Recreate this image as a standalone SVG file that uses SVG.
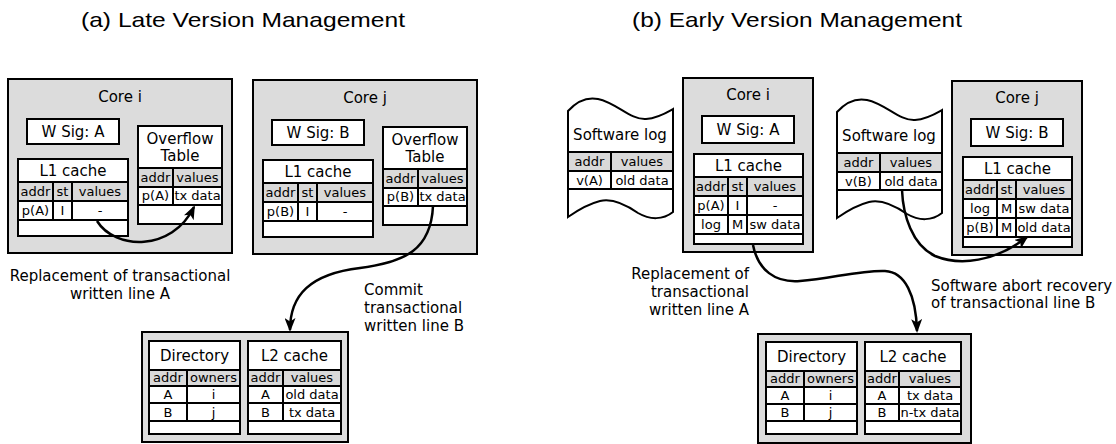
<svg xmlns="http://www.w3.org/2000/svg" width="1116" height="444" viewBox="0 0 1116 444">
  <defs>
    <style>
      .core { fill: #dcdcdc; stroke: #000; stroke-width: 2; }
      .box { fill: #fff; stroke: #000; stroke-width: 2; }
      .hdr { fill: #d9d9d9; stroke: #000; stroke-width: 2; }
      text { font-family: "DejaVu Sans", sans-serif; fill: #000; }
      .lbl { font-size: 15px; text-anchor: middle; }
      .c { font-size: 13px; text-anchor: middle; }
      .note { font-size: 15px; }
      .title { font-family: "Liberation Sans", Arial, sans-serif; font-size: 21px; }
      .conn { fill: none; stroke: #000; stroke-width: 2.5; marker-end: url(#ah); }
    </style>
    <marker id="ah" viewBox="0 0 14 11" refX="12" refY="5.5" markerWidth="14" markerHeight="11" markerUnits="userSpaceOnUse" orient="auto">
      <path d="M0,0 L14,5.5 L0,11 L3.5,5.5 Z" fill="#000"/>
    </marker>
    <!-- wavy sheet used for the software logs -->
    <path id="logsheet" d="M568,111 C578,100 588,97 598,99 C617,103 630,120 646,119 C658,118 666,113 673,109 L673,212 C663,220 650,220 638,213 C625,204 612,198 600,201 C588,204 578,210 568,217 Z"/>
  </defs>

  <rect width="1116" height="444" fill="#fff"/>

  <!-- titles -->
  <text class="title" x="81" y="27" textLength="324" lengthAdjust="spacingAndGlyphs">(a) Late Version Management</text>
  <text class="title" x="632" y="27" textLength="330" lengthAdjust="spacingAndGlyphs">(b) Early Version Management</text>

  <!-- ===== (a) Late version management ===== -->
  <g id="late-core-i">
    <rect class="core" x="8" y="79" width="224" height="174"/>
    <text class="lbl" x="120" y="102">Core i</text>
    <rect class="box" x="27" y="119" width="92" height="25"/>
    <text class="lbl" x="73" y="137">W Sig: A</text>
    <!-- L1 cache -->
    <rect class="box" x="18" y="159" width="110" height="77"/>
    <rect class="box" x="18" y="159" width="110" height="23"/>
    <text class="lbl" x="73" y="176">L1 cache</text>
    <rect class="hdr" x="18" y="182" width="35" height="19"/>
    <rect class="hdr" x="53" y="182" width="19" height="19"/>
    <rect class="hdr" x="72" y="182" width="56" height="19"/>
    <text class="c" x="35.5" y="196">addr</text>
    <text class="c" x="62.5" y="196">st</text>
    <text class="c" x="100" y="196">values</text>
    <rect class="box" x="18" y="201" width="35" height="19"/>
    <rect class="box" x="53" y="201" width="19" height="19"/>
    <rect class="box" x="72" y="201" width="56" height="19"/>
    <text class="c" x="35.5" y="215">p(A)</text>
    <text class="c" x="62.5" y="215">I</text>
    <text class="c" x="100" y="215">-</text>
    <!-- overflow table -->
    <rect class="box" x="138" y="126" width="84" height="98"/>
    <rect class="box" x="138" y="126" width="84" height="42"/>
    <text class="lbl" x="180" y="144">Overflow</text>
    <text class="lbl" x="180" y="161">Table</text>
    <rect class="hdr" x="138" y="168" width="35" height="19"/>
    <rect class="hdr" x="173" y="168" width="49" height="19"/>
    <text class="c" x="155.5" y="182">addr</text>
    <text class="c" x="197.5" y="182">values</text>
    <rect class="box" x="138" y="187" width="35" height="18"/>
    <rect class="box" x="173" y="187" width="49" height="18"/>
    <text class="c" x="155.5" y="200">p(A)</text>
    <text class="c" x="197.5" y="200">tx data</text>
  </g>

  <g id="late-core-j" transform="translate(245,1)">
    <rect class="core" x="8" y="79" width="224" height="174"/>
    <text class="lbl" x="120" y="102">Core j</text>
    <rect class="box" x="27" y="119" width="92" height="25"/>
    <text class="lbl" x="73" y="137">W Sig: B</text>
    <rect class="box" x="18" y="159" width="110" height="77"/>
    <rect class="box" x="18" y="159" width="110" height="23"/>
    <text class="lbl" x="73" y="176">L1 cache</text>
    <rect class="hdr" x="18" y="182" width="35" height="19"/>
    <rect class="hdr" x="53" y="182" width="19" height="19"/>
    <rect class="hdr" x="72" y="182" width="56" height="19"/>
    <text class="c" x="35.5" y="196">addr</text>
    <text class="c" x="62.5" y="196">st</text>
    <text class="c" x="100" y="196">values</text>
    <rect class="box" x="18" y="201" width="35" height="19"/>
    <rect class="box" x="53" y="201" width="19" height="19"/>
    <rect class="box" x="72" y="201" width="56" height="19"/>
    <text class="c" x="35.5" y="215">p(B)</text>
    <text class="c" x="62.5" y="215">I</text>
    <text class="c" x="100" y="215">-</text>
    <rect class="box" x="138" y="126" width="84" height="98"/>
    <rect class="box" x="138" y="126" width="84" height="42"/>
    <text class="lbl" x="180" y="144">Overflow</text>
    <text class="lbl" x="180" y="161">Table</text>
    <rect class="hdr" x="138" y="168" width="35" height="19"/>
    <rect class="hdr" x="173" y="168" width="49" height="19"/>
    <text class="c" x="155.5" y="182">addr</text>
    <text class="c" x="197.5" y="182">values</text>
    <rect class="box" x="138" y="187" width="35" height="18"/>
    <rect class="box" x="173" y="187" width="49" height="18"/>
    <text class="c" x="155.5" y="200">p(B)</text>
    <text class="c" x="197.5" y="200">tx data</text>
  </g>

  <g id="late-shared">
    <rect class="core" x="142" y="332" width="206" height="110"/>
    <!-- directory -->
    <rect class="box" x="149" y="341" width="91" height="93"/>
    <rect class="box" x="149" y="341" width="91" height="29"/>
    <text class="lbl" x="194.5" y="361">Directory</text>
    <rect class="hdr" x="149" y="370" width="38" height="16"/>
    <rect class="hdr" x="187" y="370" width="53" height="16"/>
    <text class="c" x="168" y="382">addr</text>
    <text class="c" x="213.5" y="382">owners</text>
    <rect class="box" x="149" y="386" width="38" height="17"/>
    <rect class="box" x="187" y="386" width="53" height="17"/>
    <text class="c" x="168" y="399">A</text>
    <text class="c" x="213.5" y="399">i</text>
    <rect class="box" x="149" y="403" width="38" height="18"/>
    <rect class="box" x="187" y="403" width="53" height="18"/>
    <text class="c" x="168" y="416.5">B</text>
    <text class="c" x="213.5" y="416.5">j</text>
    <!-- L2 cache -->
    <rect class="box" x="248" y="341" width="93" height="93"/>
    <rect class="box" x="248" y="341" width="93" height="29"/>
    <text class="lbl" x="294.5" y="361">L2 cache</text>
    <rect class="hdr" x="248" y="370" width="35" height="16"/>
    <rect class="hdr" x="283" y="370" width="58" height="16"/>
    <text class="c" x="265.5" y="382">addr</text>
    <text class="c" x="312" y="382">values</text>
    <rect class="box" x="248" y="386" width="35" height="17"/>
    <rect class="box" x="283" y="386" width="58" height="17"/>
    <text class="c" x="265.5" y="399">A</text>
    <text class="c" x="312" y="399">old data</text>
    <rect class="box" x="248" y="403" width="35" height="18"/>
    <rect class="box" x="283" y="403" width="58" height="18"/>
    <text class="c" x="265.5" y="416.5">B</text>
    <text class="c" x="312" y="416.5">tx data</text>
  </g>

  <!-- ===== (b) Early version management ===== -->
  <g id="early-log-i">
    <use href="#logsheet" class="box"/>
    <text class="lbl" x="620" y="140">Software log</text>
    <rect class="hdr" x="568" y="152" width="43" height="19"/>
    <rect class="hdr" x="611" y="152" width="62" height="19"/>
    <text class="c" x="589.5" y="166">addr</text>
    <text class="c" x="642" y="166">values</text>
    <rect class="box" x="568" y="171" width="43" height="18"/>
    <rect class="box" x="611" y="171" width="62" height="18"/>
    <text class="c" x="589.5" y="185">v(A)</text>
    <text class="c" x="642" y="185">old data</text>
  </g>

  <g id="early-core-i">
    <rect class="core" x="683" y="78" width="130" height="174"/>
    <text class="lbl" x="748" y="100">Core i</text>
    <rect class="box" x="702" y="116" width="92" height="27"/>
    <text class="lbl" x="748" y="135">W Sig: A</text>
    <rect class="box" x="694" y="154" width="109" height="90"/>
    <rect class="box" x="694" y="154" width="109" height="23"/>
    <text class="lbl" x="748.5" y="171">L1 cache</text>
    <rect class="hdr" x="694" y="177" width="34" height="19"/>
    <rect class="hdr" x="728" y="177" width="19" height="19"/>
    <rect class="hdr" x="747" y="177" width="56" height="19"/>
    <text class="c" x="711" y="191">addr</text>
    <text class="c" x="737.5" y="191">st</text>
    <text class="c" x="775" y="191">values</text>
    <rect class="box" x="694" y="196" width="34" height="19"/>
    <rect class="box" x="728" y="196" width="19" height="19"/>
    <rect class="box" x="747" y="196" width="56" height="19"/>
    <text class="c" x="711" y="210">p(A)</text>
    <text class="c" x="737.5" y="210">I</text>
    <text class="c" x="775" y="210">-</text>
    <rect class="box" x="694" y="215" width="34" height="19"/>
    <rect class="box" x="728" y="215" width="19" height="19"/>
    <rect class="box" x="747" y="215" width="56" height="19"/>
    <text class="c" x="711" y="229">log</text>
    <text class="c" x="737.5" y="229">M</text>
    <text class="c" x="775" y="229">sw data</text>
  </g>

  <g id="early-log-j" transform="translate(269,1)">
    <use href="#logsheet" class="box"/>
    <text class="lbl" x="620" y="140">Software log</text>
    <rect class="hdr" x="568" y="152" width="43" height="19"/>
    <rect class="hdr" x="611" y="152" width="62" height="19"/>
    <text class="c" x="589.5" y="166">addr</text>
    <text class="c" x="642" y="166">values</text>
    <rect class="box" x="568" y="171" width="43" height="18"/>
    <rect class="box" x="611" y="171" width="62" height="18"/>
    <text class="c" x="589.5" y="185">v(B)</text>
    <text class="c" x="642" y="185">old data</text>
  </g>

  <g id="early-core-j" transform="translate(269,3)">
    <rect class="core" x="683" y="78" width="130" height="174"/>
    <text class="lbl" x="748" y="100">Core j</text>
    <rect class="box" x="702" y="116" width="92" height="27"/>
    <text class="lbl" x="748" y="135">W Sig: B</text>
    <rect class="box" x="694" y="154" width="109" height="90"/>
    <rect class="box" x="694" y="154" width="109" height="23"/>
    <text class="lbl" x="748.5" y="171">L1 cache</text>
    <rect class="hdr" x="694" y="177" width="34" height="19"/>
    <rect class="hdr" x="728" y="177" width="19" height="19"/>
    <rect class="hdr" x="747" y="177" width="56" height="19"/>
    <text class="c" x="711" y="191">addr</text>
    <text class="c" x="737.5" y="191">st</text>
    <text class="c" x="775" y="191">values</text>
    <rect class="box" x="694" y="196" width="34" height="19"/>
    <rect class="box" x="728" y="196" width="19" height="19"/>
    <rect class="box" x="747" y="196" width="56" height="19"/>
    <text class="c" x="711" y="210">log</text>
    <text class="c" x="737.5" y="210">M</text>
    <text class="c" x="775" y="210">sw data</text>
    <rect class="box" x="694" y="215" width="34" height="19"/>
    <rect class="box" x="728" y="215" width="19" height="19"/>
    <rect class="box" x="747" y="215" width="56" height="19"/>
    <text class="c" x="711" y="229">p(B)</text>
    <text class="c" x="737.5" y="229">M</text>
    <text class="c" x="775" y="229">old data</text>
  </g>

  <g id="early-shared">
    <rect class="core" x="758" y="334" width="213" height="109"/>
    <rect class="box" x="766" y="342" width="91" height="92"/>
    <rect class="box" x="766" y="342" width="91" height="29"/>
    <text class="lbl" x="811.5" y="362">Directory</text>
    <rect class="hdr" x="766" y="371" width="38" height="16"/>
    <rect class="hdr" x="804" y="371" width="53" height="16"/>
    <text class="c" x="785" y="383">addr</text>
    <text class="c" x="830.5" y="383">owners</text>
    <rect class="box" x="766" y="387" width="38" height="17"/>
    <rect class="box" x="804" y="387" width="53" height="17"/>
    <text class="c" x="785" y="400">A</text>
    <text class="c" x="830.5" y="400">i</text>
    <rect class="box" x="766" y="404" width="38" height="17"/>
    <rect class="box" x="804" y="404" width="53" height="17"/>
    <text class="c" x="785" y="417">B</text>
    <text class="c" x="830.5" y="417">j</text>
    <rect class="box" x="865" y="342" width="96" height="92"/>
    <rect class="box" x="865" y="342" width="96" height="29"/>
    <text class="lbl" x="913" y="362">L2 cache</text>
    <rect class="hdr" x="865" y="371" width="34" height="16"/>
    <rect class="hdr" x="899" y="371" width="62" height="16"/>
    <text class="c" x="882" y="383">addr</text>
    <text class="c" x="930" y="383">values</text>
    <rect class="box" x="865" y="387" width="34" height="17"/>
    <rect class="box" x="899" y="387" width="62" height="17"/>
    <text class="c" x="882" y="400">A</text>
    <text class="c" x="930" y="400">tx data</text>
    <rect class="box" x="865" y="404" width="34" height="17"/>
    <rect class="box" x="899" y="404" width="62" height="17"/>
    <text class="c" x="882" y="417">B</text>
    <text class="c" x="930" y="417">n-tx data</text>
  </g>

  <!-- connectors -->
  <g id="connectors">
    <path class="conn" d="M97,221 C115,250 172,252 194,207"/>
    <path class="conn" d="M433,206 C431,250 405,262 360,268 C310,274 290,295 290,330"/>
    <path class="conn" d="M753,245 C758,270 775,283 800,281 C830,279 860,270 885,271 C905,272 916,295 917,331"/>
    <path class="conn" d="M902,190 C903,215 912,245 935,256 C960,266 995,262 1027,237"/>
  </g>

  <!-- captions -->
  <g id="captions">
    <text class="note" x="120" y="281" text-anchor="middle">Replacement of transactional</text>
    <text class="note" x="120" y="299" text-anchor="middle">written line A</text>
    <text class="note" x="364" y="295">Commit</text>
    <text class="note" x="364" y="313">transactional</text>
    <text class="note" x="364" y="331">written line B</text>
    <text class="note" x="749" y="279" text-anchor="end">Replacement of</text>
    <text class="note" x="749" y="297" text-anchor="end">transactional</text>
    <text class="note" x="749" y="315" text-anchor="end">written line A</text>
    <text class="note" x="931" y="291">Software abort recovery</text>
    <text class="note" x="931" y="308">of transactional line B</text>
  </g>
</svg>
